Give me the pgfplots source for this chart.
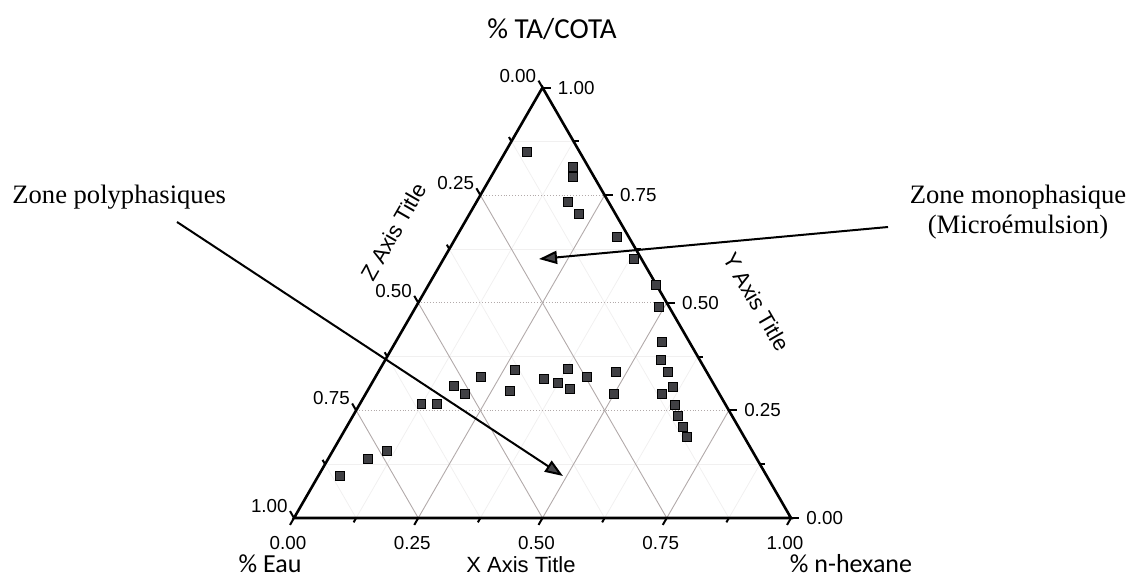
\documentclass[border=0pt]{standalone}
\usepackage{pgfplots}
\pgfplotsset{compat=1.18}
\usepackage{pgfplotstable}
\usepackage{fontspec}
\setmainfont{Liberation Sans}
\newfontfamily\timesf{Liberation Serif}
\newfontfamily\calib{Carlito}
\usetikzlibrary{arrows.meta}

\definecolor{markfill}{RGB}{64,64,68}
\definecolor{gridmaj}{RGB}{178,170,170}
\definecolor{gridmin}{RGB}{241,240,240}
\definecolor{arrowfill}{RGB}{70,70,74}

\tikzset{tl/.style={font=\fontsize{9.4}{11}\selectfont, inner sep=0pt}}

% ternary fractions: X (bottom axis), Y (right axis); Z = 1 - X - Y
\pgfplotstableread{
X Y
0.044 0.850
0.153 0.816
0.165 0.792
0.184 0.734
0.220 0.706
0.324 0.653
0.383 0.602
0.458 0.541
0.489 0.490
0.536 0.409
0.555 0.367
0.583 0.339
0.611 0.304
0.596 0.288
0.635 0.263
0.654 0.237
0.677 0.211
0.697 0.188
0.273 0.344
0.287 0.295
0.342 0.323
0.374 0.314
0.378 0.346
0.405 0.300
0.426 0.328
0.478 0.339
0.500 0.288
0.212 0.328
0.169 0.307
0.200 0.288
0.124 0.265
0.156 0.265
0.109 0.156
0.080 0.137
0.044 0.098
}\pts

\begin{document}
\begin{tikzpicture}
\begin{axis}[
  scale only axis, width=565pt, height=289pt,
  xmin=-0.59155, xmax=1.68209, ymin=-0.12072, ymax=1.04225,
  hide axis, clip=false,
]
% minor grid
\pgfplotsinvokeforeach{0.125,0.375,0.625,0.875}{
  \draw[gridmin, line width=0.4pt] (axis cs:{#1/2},{#1*0.8660254}) -- (axis cs:{1-#1/2},{#1*0.8660254});
  \draw[gridmin, line width=0.4pt] (axis cs:#1,0) -- (axis cs:{(1+#1)/2},{(1-#1)*0.8660254});
  \draw[gridmin, line width=0.4pt] (axis cs:{1-#1},0) -- (axis cs:{(1-#1)/2},{(1-#1)*0.8660254});
}
% major grid
\pgfplotsinvokeforeach{0.25,0.5,0.75}{
  \draw[gridmaj, line width=0.45pt, densely dotted] (axis cs:{#1/2},{#1*0.8660254}) -- (axis cs:{1-#1/2},{#1*0.8660254});
  \draw[gridmaj, line width=0.45pt] (axis cs:#1,0) -- (axis cs:{(1+#1)/2},{(1-#1)*0.8660254});
  \draw[gridmaj, line width=0.45pt] (axis cs:{1-#1},0) -- (axis cs:{(1-#1)/2},{(1-#1)*0.8660254});
}
% triangle frame
\draw[line width=1.3pt, line join=miter] (axis cs:0,0) -- (axis cs:1,0) -- (axis cs:0.5,0.8660254) -- cycle;
% major ticks
\pgfplotsinvokeforeach{0,0.25,0.5,0.75,1}{
  \draw[line width=1pt] (axis cs:#1,0) -- ++(240:4pt);
  \draw[line width=1pt] (axis cs:{1-#1/2},{#1*0.8660254}) -- ++(0:4pt);
  \draw[line width=1pt] (axis cs:{(1-#1)/2},{(1-#1)*0.8660254}) -- ++(120:4pt);
}
% minor ticks
\pgfplotsinvokeforeach{0.125,0.375,0.625,0.875}{
  \draw[line width=1pt] (axis cs:#1,0) -- ++(240:2.5pt);
  \draw[line width=1pt] (axis cs:{1-#1/2},{#1*0.8660254}) -- ++(0:2.5pt);
  \draw[line width=1pt] (axis cs:{(1-#1)/2},{(1-#1)*0.8660254}) -- ++(120:2.5pt);
}
% data
\addplot[only marks, mark=square*, mark size=2.2pt,
  mark options={fill=markfill, draw=black, line width=0.5pt}]
  table[x expr=\thisrow{X}+0.5*\thisrow{Y}, y expr=0.8660254*\thisrow{Y}] {\pts};

% tick labels
% bottom (X)
\node[tl, xshift=-3pt, yshift=-12.5pt] at (axis cs:0,0) {0.00};
\node[tl, xshift=-3pt, yshift=-12.5pt] at (axis cs:0.25,0) {0.25};
\node[tl, xshift=-3pt, yshift=-12.5pt] at (axis cs:0.5,0) {0.50};
\node[tl, xshift=-3pt, yshift=-12.5pt] at (axis cs:0.75,0) {0.75};
\node[tl, xshift=-3pt, yshift=-12.5pt] at (axis cs:1,0) {1.00};
% right (Y)
\node[tl, anchor=west, xshift=7.5pt] at (axis cs:1,0) {0.00};
\node[tl, anchor=west, xshift=7.5pt] at (axis cs:0.875,0.2165064) {0.25};
\node[tl, anchor=west, xshift=7.5pt] at (axis cs:0.75,0.4330127) {0.50};
\node[tl, anchor=west, xshift=7.5pt] at (axis cs:0.625,0.6495191) {0.75};
\node[tl, anchor=west, xshift=7.5pt] at (axis cs:0.5,0.8660254) {1.00};
% left (Z)
\node[tl, anchor=east, xshift=-3pt, yshift=6pt] at (axis cs:0.5,0.8660254) {0.00};
\node[tl, anchor=east, xshift=-3pt, yshift=6pt] at (axis cs:0.375,0.6495191) {0.25};
\node[tl, anchor=east, xshift=-3pt, yshift=6pt] at (axis cs:0.25,0.4330127) {0.50};
\node[tl, anchor=east, xshift=-3pt, yshift=6pt] at (axis cs:0.125,0.2165064) {0.75};
\node[tl, anchor=east, xshift=-3pt, yshift=6pt] at (axis cs:0,0) {1.00};

% axis titles
\node[font=\fontsize{11}{13}\selectfont, inner sep=0pt] at (axis cs:0.4567,-0.0946) {X Axis Title};
\node[font=\fontsize{11}{13}\selectfont, rotate=-60, inner sep=0pt] at (axis cs:0.9310,0.4350) {Y Axis Title};
\node[font=\fontsize{11}{13}\selectfont, rotate=60, inner sep=0pt] at (axis cs:0.2002,0.5759) {Z Axis Title};

% corner labels
\node[font=\calib\fontsize{14.5}{16}\selectfont, inner sep=0pt] at (axis cs:0.5191,0.9839) {\% TA/COTA};
\node[font=\calib\fontsize{13}{15}\selectfont, inner sep=0pt] at (axis cs:-0.0483,-0.0926) {\% Eau};
\node[font=\calib\fontsize{13}{15}\selectfont, inner sep=0pt] at (axis cs:1.1207,-0.0926) {\% n-hexane};

% annotations
\node[font=\timesf\fontsize{13.3}{15}\selectfont, anchor=west, inner sep=0pt] at (axis cs:-0.5674,0.6459) {Zone polyphasiques};
\node[font=\timesf\fontsize{13.3}{15}\selectfont, align=center, inner sep=0pt] at (axis cs:1.4567,0.6157) {Zone monophasique\\[0pt](Microémulsion)};
\draw[line width=1pt, -{Triangle[length=9pt,width=6.5pt,fill=arrowfill]}, draw=black] (axis cs:-0.2354,0.5956) -- (axis cs:0.5412,0.0845);
\draw[line width=1pt, -{Triangle[length=9pt,width=6.5pt,fill=arrowfill]}, draw=black] (axis cs:1.1952,0.5855) -- (axis cs:0.4930,0.5211);
\end{axis}
\pgfresetboundingbox
\useasboundingbox (current axis.south west) rectangle (current axis.north east);
\end{tikzpicture}
\end{document}
